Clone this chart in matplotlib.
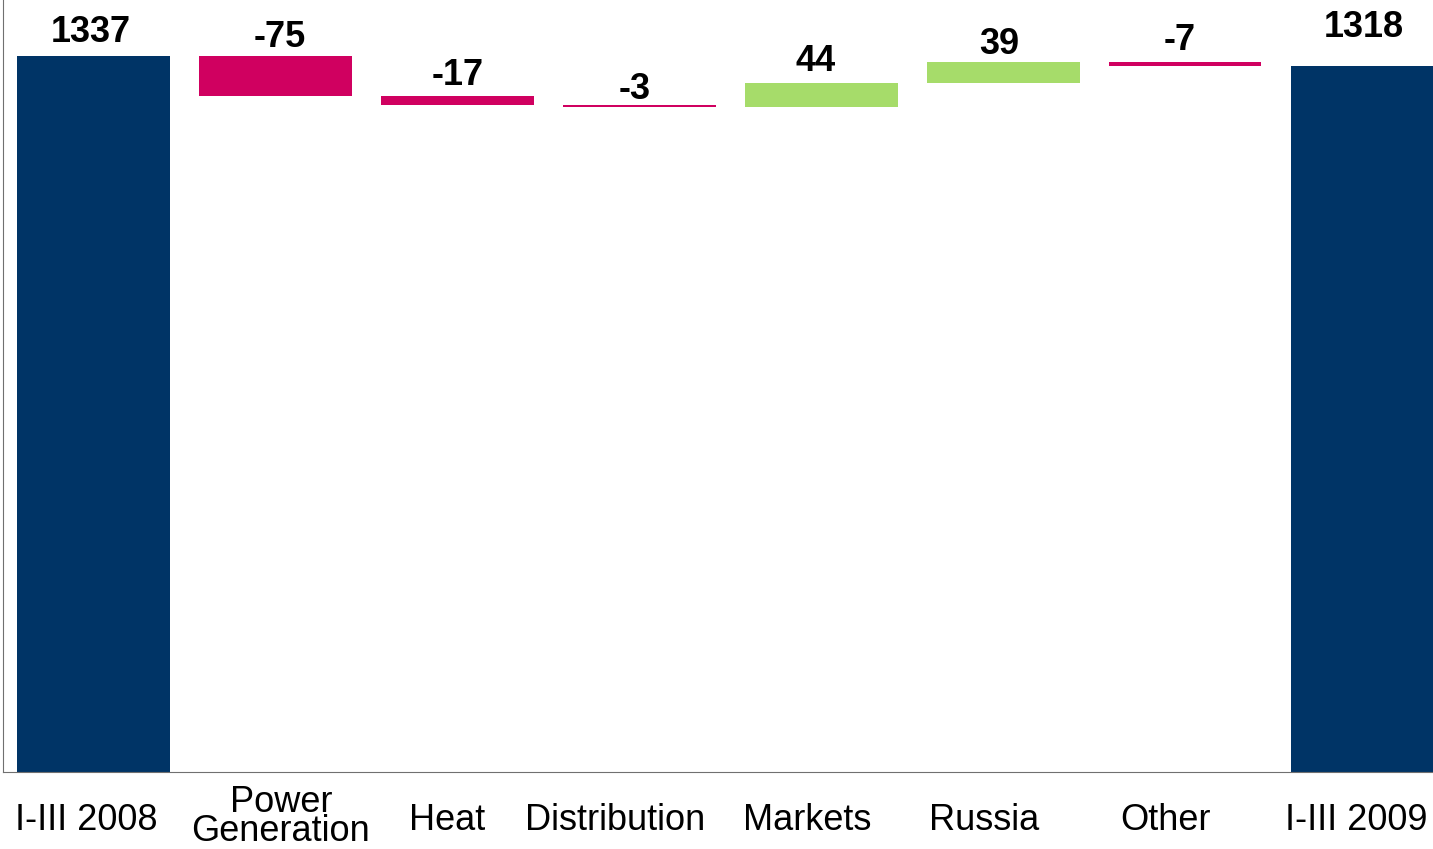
import matplotlib.pyplot as plt
import matplotlib.transforms as mtransforms
import numpy as np

# dados do gráfico (cascata)
categorias = ['I-III 2008', 'Power\nGeneration', 'Heat', 'Distribution',
              'Markets', 'Russia', 'Other', 'I-III 2009']
inicio = 1337
variacoes = [-75, -17, -3, 44, 39, -7]
fim = 1318

cor_total = '#003466'
cor_neg = '#D00060'
cor_pos = '#A6DC6A'

fig = plt.figure(figsize=(14.33, 8.49), dpi=100)
ax = fig.add_axes([3 / 1433, 77 / 849, 1430 / 1433, 772 / 849])

largura = 0.84
x = np.arange(len(categorias))

# barras de total
ax.bar(x[0], inicio, width=largura, color=cor_total)
ax.bar(x[-1], fim, width=largura, color=cor_total)

# barras de variação
acum = inicio
topos = [inicio]
for i, v in enumerate(variacoes, start=1):
    base = acum + min(v, 0)
    ax.bar(x[i], abs(v), bottom=base, width=largura,
           color=cor_neg if v < 0 else cor_pos)
    acum += v
    topos.append(max(acum, acum - v))
topos.append(fim)

rotulos = [str(inicio)] + [str(v) for v in variacoes] + [str(fim)]
# deslocamento dos rótulos de valor (pontos)
desloc_y = [17, 13, 15, 11, 16, 13, 16, 28]
desloc_x = [-2, 3, 0, -3, -4, -3, -4, -2]
for xi, topo, txt, dx, dy in zip(x, topos, rotulos, desloc_x, desloc_y):
    ax.annotate(txt, (xi, topo), xytext=(dx, dy), textcoords='offset points',
                ha='center', va='center', fontsize=26, fontweight='bold',
                family=['Liberation Sans', 'DejaVu Sans'])

ax.set_xlim(-0.497, 7.363)
ax.set_ylim(0, 772 / 0.53553)

for s in ['top', 'right']:
    ax.spines[s].set_visible(False)
ax.spines['left'].set_color('#707070')
ax.spines['bottom'].set_color('#707070')
ax.set_yticks([])
ax.set_xticks([])

# rótulos das categorias (deslocamento em unidades de categoria)
desloc_cat = [-0.04, 0.03, -0.055, -0.135, -0.077, -0.105, -0.105, -0.06]
trans = mtransforms.blended_transform_factory(ax.transData, ax.transAxes)
for xi, cat, d in zip(x, categorias, desloc_cat):
    y_cat = -0.0585 if '\n' in cat else -0.0625
    ax.text(xi + d, y_cat, cat, transform=trans, ha='center', va='center',
            fontsize=26, linespacing=0.8,
            family=['Liberation Sans', 'DejaVu Sans'])

fig.savefig('out.png', dpi=100)
